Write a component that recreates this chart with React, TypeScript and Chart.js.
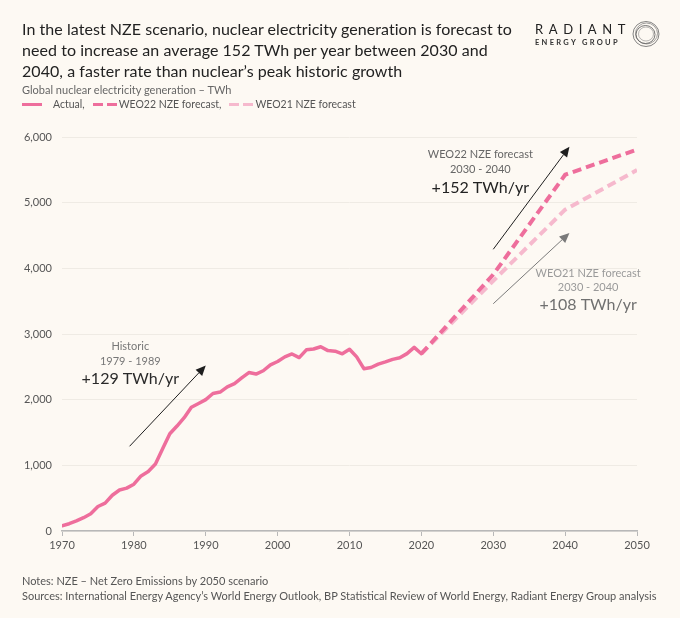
import React, { useEffect, useRef } from "react";
import { Chart, registerables } from "chart.js";

Chart.register(...registerables);

// ---------- data ----------
const actualYears = [
  1970, 1971, 1972, 1973, 1974, 1975, 1976, 1977, 1978, 1979,
  1980, 1981, 1982, 1983, 1984, 1985, 1986, 1987, 1988, 1989,
  1990, 1991, 1992, 1993, 1994, 1995, 1996, 1997, 1998, 1999,
  2000, 2001, 2002, 2003, 2004, 2005, 2006, 2007, 2008, 2009,
  2010, 2011, 2012, 2013, 2014, 2015, 2016, 2017, 2018, 2019, 2020,
];
const actualValues = [
  80, 111, 153, 203, 262, 373, 424, 544, 624, 653,
  713, 839, 905, 1019, 1253, 1480, 1598, 1725, 1884, 1941,
  2001, 2094, 2116, 2196, 2245, 2332, 2413, 2390, 2440, 2531,
  2581, 2652, 2696, 2641, 2759, 2771, 2806, 2747, 2738, 2698,
  2768, 2651, 2472, 2490, 2541, 2575, 2614, 2637, 2701, 2796, 2700,
];
const forecastYears = [2020, 2030, 2040, 2050];
const weo22Values = [2700, 3905, 5425, 5809];
const weo21Values = [2700, 3810, 4893, 5497];

const xTickValues = [1970, 1980, 1990, 2000, 2010, 2020, 2030, 2040, 2050];
const yTickValues = [0, 1000, 2000, 3000, 4000, 5000, 6000];

// annotation arrows (data coordinates: year, TWh)
const historicArrow = { from: [1979.4, 1290], to: [1990.0, 2520] };
const weo22Arrow = { from: [2030.0, 4290], to: [2040.6, 5852] };
const weo21Arrow = { from: [2030.0, 3461], to: [2040.6, 4539] };

// annotation labels (centre year; value of each line)
const historicLabel = { year: 1979.5, lines: ["Historic", "1979 - 1989", "+129 TWh/yr"], values: [2806, 2588, 2313] };
const weo22Label = { year: 2028.2, lines: ["WEO22 NZE forecast", "2030 - 2040", "+152 TWh/yr"], values: [5733, 5504, 5224] };
const weo21Label = { year: 2043.2, lines: ["WEO21 NZE forecast", "2030 - 2040", "+108 TWh/yr"], values: [3927, 3713, 3443] };

// ---------- styles ----------
const BG = "#FDF9F3";
const PINK = "#EE6E9C";
const LIGHT_PINK = "#F6B9CD";
const FONT = "Lato, 'Open Sans', sans-serif";

function drawArrow(ctx: CanvasRenderingContext2D, x1: number, y1: number, x2: number, y2: number, color: string) {
  const ang = Math.atan2(y2 - y1, x2 - x1);
  const headLen = 10;
  const headW = 4.5;
  const bx = x2 - headLen * Math.cos(ang);
  const by = y2 - headLen * Math.sin(ang);
  ctx.save();
  ctx.strokeStyle = color;
  ctx.fillStyle = color;
  ctx.lineWidth = 1;
  ctx.beginPath();
  ctx.moveTo(x1, y1);
  ctx.lineTo(bx, by);
  ctx.stroke();
  ctx.beginPath();
  ctx.moveTo(x2, y2);
  ctx.lineTo(bx + headW * Math.sin(ang), by - headW * Math.cos(ang));
  ctx.lineTo(bx - headW * Math.sin(ang), by + headW * Math.cos(ang));
  ctx.closePath();
  ctx.fill();
  ctx.restore();
}

const annotationPlugin = {
  id: "annotations",
  afterDatasetsDraw(chart: any) {
    const ctx = chart.ctx as CanvasRenderingContext2D;
    const xs = chart.scales.x;
    const ys = chart.scales.y;
    const px = (v: number) => xs.getPixelForValue(v);
    const py = (v: number) => ys.getPixelForValue(v);

    const arrows: [any, string][] = [
      [historicArrow, "#1e1e1e"],
      [weo22Arrow, "#1e1e1e"],
      [weo21Arrow, "#7a7a7a"],
    ];
    arrows.forEach(([a, c]) => drawArrow(ctx, px(a.from[0]), py(a.from[1]), px(a.to[0]), py(a.to[1]), c));

    const labels: [any, string[], string[]][] = [
      [historicLabel, ["#777", "#777", "#2a2a2a"], ["11px", "11px", "16px"]],
      [weo22Label, ["#666", "#666", "#222"], ["11px", "11px", "16px"]],
      [weo21Label, ["#9a9a9a", "#9a9a9a", "#707070"], ["11px", "11px", "16px"]],
    ];
    ctx.save();
    ctx.textAlign = "center";
    ctx.textBaseline = "middle";
    labels.forEach(([l, colors, sizes]) => {
      l.lines.forEach((t: string, i: number) => {
        ctx.font = `${sizes[i]} ${FONT}`;
        ctx.fillStyle = colors[i];
        ctx.fillText(t, px(l.year), py(l.values[i]));
      });
    });
    ctx.restore();
  },
};

export default function App() {
  const canvasRef = useRef<HTMLCanvasElement | null>(null);

  useEffect(() => {
    const canvas = canvasRef.current;
    if (!canvas) return;
    const chart = new Chart(canvas, {
      type: "line",
      data: {
        datasets: [
          {
            label: "Actual",
            data: actualYears.map((x, i) => ({ x, y: actualValues[i] })),
            borderColor: PINK,
            borderWidth: 3.5,
            pointRadius: 0,
            tension: 0,
            borderJoinStyle: "round",
            borderCapStyle: "round",
          },
          {
            label: "WEO22 NZE forecast",
            data: forecastYears.map((x, i) => ({ x, y: weo22Values[i] })),
            borderColor: PINK,
            borderWidth: 4,
            borderDash: [9, 5],
            pointRadius: 0,
            tension: 0,
          },
          {
            label: "WEO21 NZE forecast",
            data: forecastYears.map((x, i) => ({ x, y: weo21Values[i] })),
            borderColor: LIGHT_PINK,
            borderWidth: 4,
            borderDash: [9, 5],
            pointRadius: 0,
            tension: 0,
          },
        ],
      },
      options: {
        animation: false,
        responsive: false,
        maintainAspectRatio: false,
        layout: { padding: { left: 0, right: 43, top: 137, bottom: 57 } },
        plugins: { legend: { display: false }, tooltip: { enabled: false } },
        scales: {
          x: {
            type: "linear",
            min: 1970,
            max: 2050,
            afterBuildTicks: (s: any) => {
              s.ticks = xTickValues.map((v) => ({ value: v }));
            },
            ticks: {
              callback: (v: any) => String(v),
              font: { family: FONT, size: 11 },
              color: "#555",
              padding: 3,
              maxRotation: 0,
              autoSkip: false,
            },
            grid: { drawOnChartArea: false, drawTicks: true, tickLength: 5, color: "#b8b8b8", lineWidth: 1 },
            border: { color: "#b8b8b8", width: 1.5 },
            afterFit: (s: any) => {
              s.height = 30;
            },
          },
          y: {
            min: 0,
            max: 6000,
            afterBuildTicks: (s: any) => {
              s.ticks = yTickValues.map((v) => ({ value: v }));
            },
            ticks: {
              callback: (v: any) => Number(v).toLocaleString("en-US"),
              font: { family: FONT, size: 11 },
              color: "#555",
              padding: 10,
            },
            grid: { color: "#EFEBE4", drawTicks: false, lineWidth: 1 },
            border: { display: false },
            afterFit: (s: any) => {
              s.width = 62;
            },
          },
        },
      },
      plugins: [annotationPlugin],
    });
    return () => chart.destroy();
  }, []);

  const abs = (extra: React.CSSProperties): React.CSSProperties => ({ position: "absolute", whiteSpace: "nowrap", ...extra });

  return (
    <div style={{ position: "absolute", left: 0, top: 0, width: 680, height: 618, background: BG, fontFamily: FONT, overflow: "hidden" }}>
      <canvas ref={canvasRef} width={680} height={618} style={{ position: "absolute", left: 0, top: 0, width: 680, height: 618 }} />
      <div style={abs({ left: 22, top: 18, fontSize: 16, lineHeight: "21px", color: "#222", letterSpacing: "0.05px" })}>
        In the latest NZE scenario, nuclear electricity generation is forecast to
        <br />
        need to increase an average 152 TWh per year between 2030 and
        <br />
        2040, a faster rate than nuclear’s peak historic growth
      </div>
      <div style={abs({ left: 22, top: 83, fontSize: 11, lineHeight: "14px", color: "#666" })}>
        Global nuclear electricity generation – TWh
      </div>
      <div style={abs({ left: 22, top: 97, height: 14, fontSize: 10.5, lineHeight: "14px", color: "#555", display: "flex", alignItems: "center" })}>
        <span style={{ display: "inline-block", width: 20, height: 3, background: PINK, marginRight: 11 }} />
        <span>Actual,</span>
        <span style={{ display: "inline-block", width: 10, height: 3, background: PINK, marginLeft: 8, marginRight: 4 }} />
        <span style={{ display: "inline-block", width: 10, height: 3, background: PINK, marginRight: 2 }} />
        <span>WEO22 NZE forecast,</span>
        <span style={{ display: "inline-block", width: 10, height: 3, background: LIGHT_PINK, marginLeft: 8, marginRight: 4 }} />
        <span style={{ display: "inline-block", width: 10, height: 3, background: LIGHT_PINK, marginRight: 2 }} />
        <span>WEO21 NZE forecast</span>
      </div>
      <div style={abs({ left: 535, top: 22, fontSize: 13, lineHeight: "15px", letterSpacing: "5.6px", color: "#222" })}>RADIANT</div>
      <div style={abs({ left: 535, top: 38, fontSize: 7.5, lineHeight: "10px", letterSpacing: "2.3px", color: "#333", fontWeight: 700 })}>ENERGY GROUP</div>
      <svg width={30} height={30} style={{ position: "absolute", left: 631, top: 19 }} viewBox="0 0 30 30">
        <ellipse cx={15} cy={15} rx={13} ry={12.5} fill="none" stroke="#666" strokeWidth={0.8} />
        <ellipse cx={15.5} cy={14.5} rx={11} ry={10.5} fill="none" stroke="#777" strokeWidth={0.7} />
        <ellipse cx={14.5} cy={15.5} rx={9.5} ry={9} fill="none" stroke="#555" strokeWidth={0.8} />
        <ellipse cx={15} cy={15} rx={7.5} ry={7} fill="none" stroke="#888" strokeWidth={0.6} />
      </svg>
      <div style={abs({ left: 22, top: 573, fontSize: 11, lineHeight: "15px", color: "#555" })}>
        Notes: NZE – Net Zero Emissions by 2050 scenario
        <br />
        Sources: International Energy Agency’s World Energy Outlook, BP Statistical Review of World Energy, Radiant Energy Group analysis
      </div>
    </div>
  );
}
